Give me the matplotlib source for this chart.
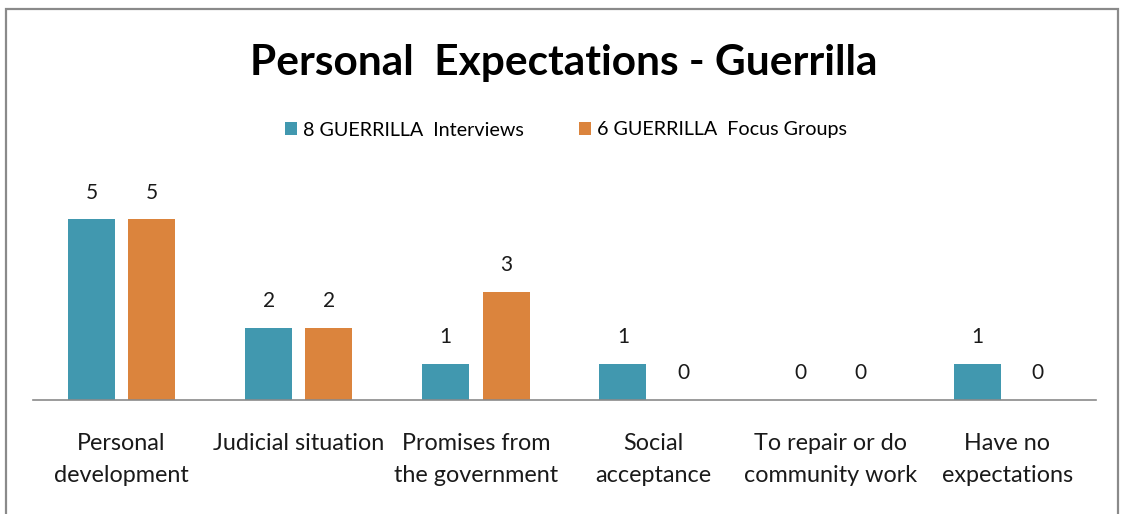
import matplotlib
matplotlib.use('Agg')
import matplotlib.pyplot as plt
import numpy as np
from matplotlib.patches import Rectangle

plt.rcParams['font.family'] = ['Lato', 'DejaVu Sans']

categories = ['Personal\ndevelopment', 'Judicial situation', 'Promises from\nthe government',
              'Social\nacceptance', 'To repair or do\ncommunity work', 'Have no\nexpectations']
interviews = [5, 2, 1, 1, 0, 1]
focus_groups = [5, 2, 3, 0, 0, 0]
series_names = ['8 GUERRILLA  Interviews', '6 GUERRILLA  Focus Groups']
title = 'Personal  Expectations - Guerrilla'

teal = '#4198AF'
orange = '#DB843D'
W, H = 1123, 514

fig = plt.figure(figsize=(W / 100, H / 100), dpi=100)
# frame around the chart
fig.patches.append(Rectangle((6 / W, -0.05), 1112 / W, 1.05 - 9 / H, transform=fig.transFigure,
                             fill=False, edgecolor='#8a8a8a', linewidth=1.6))

ax = fig.add_axes([33 / W, (H - 400) / H, 1063 / W, 217 / H])
x = np.arange(len(categories))
bw = 0.265
off = 0.17
b1 = ax.bar(x - off, interviews, bw, color=teal, label=series_names[0])
b2 = ax.bar(x + off, focus_groups, bw, color=orange, label=series_names[1])

for bars in (b1, b2):
    for r in bars:
        ax.annotate(str(int(r.get_height())), (r.get_x() + r.get_width() / 2, r.get_height()),
                    xytext=(0, 12), textcoords='offset points', ha='center', va='bottom',
                    fontsize=15, color='#1a1a1a')

ax.set_xlim(-0.5, len(categories) - 0.5)
ax.set_ylim(0, 6)
ax.set_yticks([])
ax.set_xticks(x)
ax.set_xticklabels(categories, fontsize=16.8, color='#1a1a1a', linespacing=1.62)
ax.tick_params(axis='x', length=0, pad=24)
for s in ['top', 'right', 'left']:
    ax.spines[s].set_visible(False)
ax.spines['bottom'].set_color('#8a8a8a')
ax.spines['bottom'].set_linewidth(1.2)

fig.text(564 / W, 1 - 63 / H, title, ha='center', va='center', fontsize=30.5, fontweight='bold',
         color='black')
fig.legend(loc='center', bbox_to_anchor=(566 / W, 1 - 130 / H), ncol=2, frameon=False,
           fontsize=14.2, handlelength=0.6, handleheight=0.6, handletextpad=0.3, columnspacing=2.8)

fig.savefig('out.png', dpi=100)
